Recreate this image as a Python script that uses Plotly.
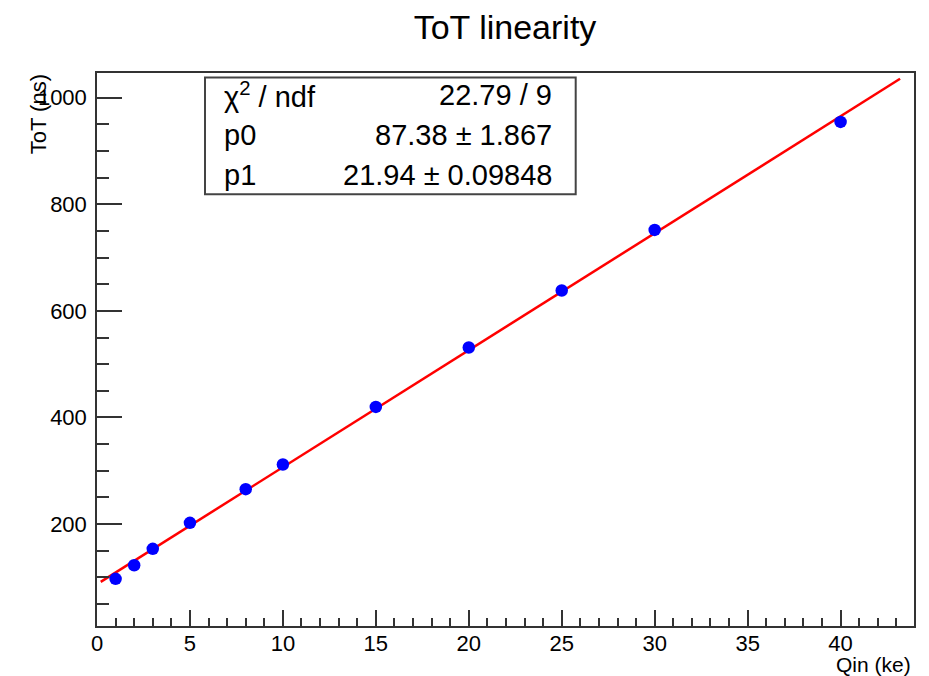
import plotly.graph_objects as go

# ---- data ----
qin = [1, 2, 3, 5, 8, 10, 15, 20, 25, 30, 40]
tot = [97.5, 123, 153.7, 202.4, 265.6, 311.9, 419.9, 531.3, 638.1, 751.7, 954.3]
p0 = 87.38
p1 = 21.94
p0_err = 1.867
p1_err = 0.09848
chi2 = 22.79
ndf = 9
fit_range = [0.2, 43.2]
x_ticks = [0, 5, 10, 15, 20, 25, 30, 35, 40]
y_ticks = [200, 400, 600, 800, 1000]

fit_y = [p0 + p1 * x for x in fit_range]

W, H = 929, 676
L, R, T, B = 97, 914, 72.7, 626

def px(x):
    return (x - L) / (R - L)

def py(y):
    return (B - y) / (B - T)

FONT = "Liberation Sans, Arial, Helvetica, sans-serif"

fig = go.Figure()
fig.add_trace(go.Scatter(x=fit_range, y=fit_y, mode="lines",
                         line=dict(color="#ff0000", width=2.5),
                         showlegend=False, hoverinfo="skip"))
fig.add_trace(go.Scatter(x=qin, y=tot, mode="markers",
                         marker=dict(color="#0000ff", size=12.5),
                         showlegend=False))

fig.update_layout(
    width=W, height=H,
    margin=dict(l=L, r=W - R, t=T, b=H - B, pad=0),
    paper_bgcolor="white", plot_bgcolor="white",
    font=dict(family=FONT, color="black", size=22),
    title=dict(text="ToT linearity", xref="container", x=505 / W, xanchor="center",
               y=1 - 27 / H, yanchor="middle",
               font=dict(size=34, family=FONT, color="black")),
    xaxis=dict(range=[0, 43.95], tickvals=x_ticks, ticks="inside", ticklen=16,
               tickwidth=1.5, tickcolor="#333",
               showgrid=False, zeroline=False, showline=True, linecolor="#333",
               linewidth=1.5, mirror=True, ticklabelstandoff=-3,
               tickfont=dict(size=22),
               minor=dict(dtick=1, ticks="inside", ticklen=8, tickwidth=1.5,
                          tickcolor="#333", showgrid=False)),
    yaxis=dict(range=[9, 1046], tickvals=y_ticks, ticks="inside", ticklen=25,
               tickwidth=1.5, tickcolor="#333",
               showgrid=False, zeroline=False, showline=True, linecolor="#333",
               linewidth=1.5, mirror=True, ticklabelstandoff=4,
               tickfont=dict(size=22),
               minor=dict(dtick=50, ticks="inside", ticklen=12.5, tickwidth=1.5,
                          tickcolor="#333", showgrid=False)),
)

# axis titles
fig.add_annotation(text="Qin (ke)", xref="paper", yref="paper",
                   x=px(913), y=py(665), xanchor="right", yanchor="middle",
                   showarrow=False, font=dict(size=21))
fig.add_annotation(text="ToT (ns)", xref="paper", yref="paper",
                   x=px(38), y=py(114), xanchor="center", yanchor="middle",
                   textangle=-90, showarrow=False, font=dict(size=22))

# stats box
fig.add_shape(type="rect", xref="paper", yref="paper",
              x0=px(205), x1=px(575.7), y0=py(194), y1=py(77.3),
              line=dict(color="#444", width=2), fillcolor="white", layer="above")
rows = [("χ<sup>2</sup> / ndf", f"{chi2:.2f} / {ndf}", 95),
        ("p0", f"{p0:.2f} ± {p0_err:.3f}", 135),
        ("p1", f"{p1:.2f} ± {p1_err:.5f}", 175)]
for lab, val, yy in rows:
    fig.add_annotation(text=lab, xref="paper", yref="paper", x=px(222), y=py(yy),
                       xanchor="left", yanchor="middle", showarrow=False,
                       font=dict(size=29))
    fig.add_annotation(text=val, xref="paper", yref="paper", x=px(554), y=py(yy),
                       xanchor="right", yanchor="middle", showarrow=False,
                       font=dict(size=29))

fig.write_html("out.html")
